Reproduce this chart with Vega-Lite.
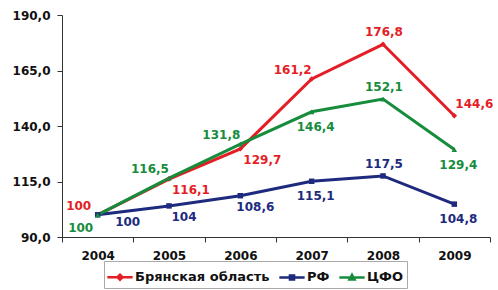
{
  "$schema": "https://vega.github.io/schema/vega-lite/v6.json",
  "width": 428,
  "height": 222,
  "autosize": {"type": "none"},
  "padding": {"left": 62, "top": 15, "right": 8, "bottom": 53},
  "config": {
    "locale": {"number": {"decimal": ",", "thousands": " ", "grouping": [3], "currency": ["", ""]}},
    "view": {"stroke": null},
    "font": "DejaVu Sans"
  },
  "data": {
    "values": [
      {"year": "2004", "s": "Брянская область", "v": 100},
      {"year": "2005", "s": "Брянская область", "v": 116.1},
      {"year": "2006", "s": "Брянская область", "v": 129.7},
      {"year": "2007", "s": "Брянская область", "v": 161.2},
      {"year": "2008", "s": "Брянская область", "v": 176.8},
      {"year": "2009", "s": "Брянская область", "v": 144.6},
      {"year": "2004", "s": "РФ", "v": 100},
      {"year": "2005", "s": "РФ", "v": 104},
      {"year": "2006", "s": "РФ", "v": 108.6},
      {"year": "2007", "s": "РФ", "v": 115.1},
      {"year": "2008", "s": "РФ", "v": 117.5},
      {"year": "2009", "s": "РФ", "v": 104.8},
      {"year": "2004", "s": "ЦФО", "v": 100},
      {"year": "2005", "s": "ЦФО", "v": 116.5},
      {"year": "2006", "s": "ЦФО", "v": 131.8},
      {"year": "2007", "s": "ЦФО", "v": 146.4},
      {"year": "2008", "s": "ЦФО", "v": 152.1},
      {"year": "2009", "s": "ЦФО", "v": 129.4}
    ]
  },
  "encoding": {
    "x": {
      "field": "year", "type": "ordinal",
      "scale": {"type": "band", "paddingInner": 0, "paddingOuter": 0},
      "axis": {"title": null, "labelAngle": 0, "tickBand": "extent", "tickSize": 5, "domainColor": "#333", "tickColor": "#333", "labelPadding": 8, "labelFontWeight": "bold", "labelFontSize": 12, "labelColor": "#111"}
    },
    "y": {
      "field": "v", "type": "quantitative",
      "scale": {"domain": [90, 190], "nice": false, "zero": false},
      "axis": {"title": null, "values": [90, 115, 140, 165, 190], "format": ".1f", "grid": false, "tickSize": 5, "domainColor": "#333", "tickColor": "#333", "labelPadding": 7, "labelFontWeight": "bold", "labelFontSize": 12, "labelColor": "#111"}
    }
  },
  "layer": [
    {
      "mark": {"type": "line", "strokeWidth": 3},
      "encoding": {
        "color": {"field": "s", "type": "nominal", "scale": {"domain": ["Брянская область", "РФ", "ЦФО"], "range": ["#e41e26", "#1d2a7e", "#168c3c"]}, "legend": null}
      }
    },
    {
      "mark": {"type": "point", "filled": true, "size": 30, "opacity": 1},
      "encoding": {
        "color": {"field": "s", "type": "nominal", "scale": {"domain": ["Брянская область", "РФ", "ЦФО"], "range": ["#e41e26", "#1d2a7e", "#168c3c"]}, "legend": null},
        "shape": {"field": "s", "type": "nominal", "scale": {"domain": ["Брянская область", "РФ", "ЦФО"], "range": ["diamond", "square", "triangle-up"]}, "legend": null}
      }
    },
    {
      "transform": [{"filter": "false"}],
      "mark": {"type": "point", "filled": false, "strokeWidth": 2.5, "opacity": 1},
      "encoding": {
        "color": {"field": "s", "type": "nominal", "scale": {"domain": ["Брянская область", "РФ", "ЦФО"], "range": ["#e41e26", "#1d2a7e", "#168c3c"]},
          "legend": {"title": null, "orient": "none", "legendX": 42, "legendY": 246, "direction": "horizontal", "symbolSize": 529, "symbolStrokeWidth": 2.5, "symbolOpacity": 1, "labelFontWeight": "bold", "labelFontSize": 13, "labelColor": "#111", "strokeColor": "#aaa", "padding": 3, "columnPadding": 4, "labelOffset": 2}},
        "shape": {"field": "s", "type": "nominal", "scale": {"domain": ["Брянская область", "РФ", "ЦФО"], "range": ["M-1.1,0H1.1M-0.22,0L0,-0.22L0.22,0L0,0.22Z", "M-1.1,0H1.1M-0.18,-0.18H0.18V0.18H-0.18Z", "M-1.1,0H1.1M0,-0.22L0.22,0.18H-0.22Z"]}}
      }
    },
    {
      "transform": [{"filter": "indexof(['Брянская область2008','РФ2008','ЦФО2008'], datum.s + datum.year) >= 0"}],
      "mark": {"type": "text", "dx": 1, "dy": -12, "fontWeight": "bold", "fontSize": 12},
      "encoding": {
        "text": {"field": "v", "type": "quantitative", "format": ".1~f"},
        "color": {"field": "s", "type": "nominal", "scale": {"domain": ["Брянская область", "РФ", "ЦФО"], "range": ["#e41e26", "#1d2a7e", "#168c3c"]}, "legend": null}
      }
    },
    {
      "transform": [{"filter": "indexof(['ЦФО2007','РФ2007','ЦФО2009','РФ2009'], datum.s + datum.year) >= 0"}],
      "mark": {"type": "text", "dx": 4, "dy": 15, "fontWeight": "bold", "fontSize": 12},
      "encoding": {
        "text": {"field": "v", "type": "quantitative", "format": ".1~f"},
        "color": {"field": "s", "type": "nominal", "scale": {"domain": ["Брянская область", "РФ", "ЦФО"], "range": ["#e41e26", "#1d2a7e", "#168c3c"]}, "legend": null}
      }
    },
    {
      "transform": [{"filter": "indexof(['РФ2005','РФ2006'], datum.s + datum.year) >= 0"}],
      "mark": {"type": "text", "dx": 15, "dy": 11, "fontWeight": "bold", "fontSize": 12},
      "encoding": {
        "text": {"field": "v", "type": "quantitative", "format": ".1~f"},
        "color": {"field": "s", "type": "nominal", "scale": {"domain": ["Брянская область", "РФ", "ЦФО"], "range": ["#e41e26", "#1d2a7e", "#168c3c"]}, "legend": null}
      }
    },
    {
      "transform": [{"filter": "indexof(['Брянская область2004','ЦФО2005','ЦФО2006','Брянская область2007'], datum.s + datum.year) >= 0"}],
      "mark": {"type": "text", "dx": -19, "dy": -9, "fontWeight": "bold", "fontSize": 12},
      "encoding": {
        "text": {"field": "v", "type": "quantitative", "format": ".1~f"},
        "color": {"field": "s", "type": "nominal", "scale": {"domain": ["Брянская область", "РФ", "ЦФО"], "range": ["#e41e26", "#1d2a7e", "#168c3c"]}, "legend": null}
      }
    },
    {
      "transform": [{"filter": "indexof(['Брянская область2005','Брянская область2006'], datum.s + datum.year) >= 0"}],
      "mark": {"type": "text", "dx": 22, "dy": 11, "fontWeight": "bold", "fontSize": 12},
      "encoding": {
        "text": {"field": "v", "type": "quantitative", "format": ".1~f"},
        "color": {"field": "s", "type": "nominal", "scale": {"domain": ["Брянская область", "РФ", "ЦФО"], "range": ["#e41e26", "#1d2a7e", "#168c3c"]}, "legend": null}
      }
    },
    {
      "transform": [{"filter": "datum.s + datum.year == 'ЦФО2004'"}],
      "mark": {"type": "text", "dx": -17, "dy": 13, "fontWeight": "bold", "fontSize": 12},
      "encoding": {
        "text": {"field": "v", "type": "quantitative", "format": ".1~f"},
        "color": {"field": "s", "type": "nominal", "scale": {"domain": ["Брянская область", "РФ", "ЦФО"], "range": ["#e41e26", "#1d2a7e", "#168c3c"]}, "legend": null}
      }
    },
    {
      "transform": [{"filter": "datum.s + datum.year == 'РФ2004'"}],
      "mark": {"type": "text", "dx": 30, "dy": 7, "fontWeight": "bold", "fontSize": 12},
      "encoding": {
        "text": {"field": "v", "type": "quantitative", "format": ".1~f"},
        "color": {"field": "s", "type": "nominal", "scale": {"domain": ["Брянская область", "РФ", "ЦФО"], "range": ["#e41e26", "#1d2a7e", "#168c3c"]}, "legend": null}
      }
    },
    {
      "transform": [{"filter": "datum.s + datum.year == 'Брянская область2009'"}],
      "mark": {"type": "text", "dx": 20, "dy": -12, "fontWeight": "bold", "fontSize": 12},
      "encoding": {
        "text": {"field": "v", "type": "quantitative", "format": ".1~f"},
        "color": {"field": "s", "type": "nominal", "scale": {"domain": ["Брянская область", "РФ", "ЦФО"], "range": ["#e41e26", "#1d2a7e", "#168c3c"]}, "legend": null}
      }
    }
  ],
  "resolve": {"scale": {"shape": "independent", "color": "independent"}}
}
